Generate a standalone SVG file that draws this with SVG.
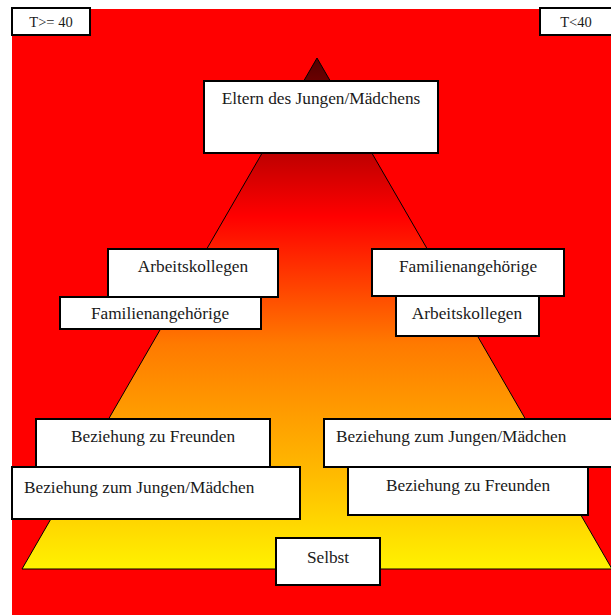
<svg xmlns="http://www.w3.org/2000/svg" width="611" height="615" viewBox="0 0 611 615">
<style>
.box{fill:#ffffff;stroke:#000000;stroke-width:2}
.t{font-family:"Liberation Serif","Times New Roman",serif;font-size:17.3px;fill:#1a1a1a}
.m{text-anchor:middle}
</style>
<defs>
<linearGradient id="g" x1="0" y1="58" x2="0" y2="569" gradientUnits="userSpaceOnUse">
<stop offset="0" stop-color="#500000"/>
<stop offset="0.19" stop-color="#c00000"/>
<stop offset="0.31" stop-color="#ff0000"/>
<stop offset="0.56" stop-color="#ff7a00"/>
<stop offset="0.82" stop-color="#ffbc00"/>
<stop offset="1" stop-color="#fff200"/>
</linearGradient>
</defs>
<rect x="12" y="9" width="599" height="606" fill="#ff0000"/>
<polygon points="317,58 612,569 22,569" fill="url(#g)" stroke="#000000" stroke-width="1"/>
<g id="connectors"/>
<g id="tge40"><rect class="box" x="12" y="8" width="78" height="27"/><text class="t m" x="51" y="27" style="font-size:14.5px">T&gt;= 40</text></g>
<g id="tlt40"><rect class="box" x="540" y="8" width="72" height="27"/><text class="t m" x="576" y="27" style="font-size:14.5px">T&lt;40</text></g>
<g id="eltern"><rect class="box" x="204" y="81" width="234" height="72"/><text class="t m" x="321" y="104">Eltern des Jungen/Mädchens</text></g>
<g id="arbeit-l"><rect class="box" x="108" y="249" width="170" height="48"/><text class="t m" x="193" y="272">Arbeitskollegen</text></g>
<g id="familie-l"><rect class="box" x="60" y="297" width="201" height="32"/><text class="t m" x="160" y="319">Familienangehörige</text></g>
<g id="familie-r"><rect class="box" x="372" y="249" width="192" height="47"/><text class="t m" x="468" y="272">Familienangehörige</text></g>
<g id="arbeit-r"><rect class="box" x="396" y="296" width="143" height="40"/><text class="t m" x="467" y="319">Arbeitskollegen</text></g>
<g id="freunde-l"><rect class="box" x="36" y="419" width="234" height="48"/><text class="t m" x="153" y="442">Beziehung zu Freunden</text></g>
<g id="jungen-l"><rect class="box" x="12" y="467" width="288" height="52"/><text class="t" x="24" y="493">Beziehung zum Jungen/Mädchen</text></g>
<g id="jungen-r"><rect class="box" x="324" y="419" width="290" height="48"/><text class="t" x="336" y="442">Beziehung zum Jungen/Mädchen</text></g>
<g id="freunde-r"><rect class="box" x="348" y="467" width="240" height="48"/><text class="t m" x="468" y="491">Beziehung zu Freunden</text></g>
<g id="selbst"><rect class="box" x="276" y="538" width="104" height="47"/><text class="t m" x="328" y="563">Selbst</text></g>
</svg>
